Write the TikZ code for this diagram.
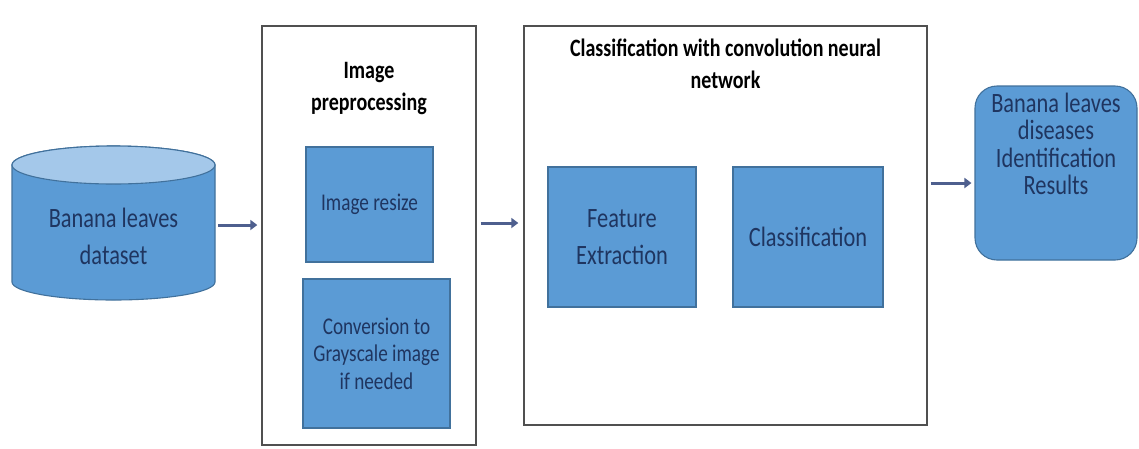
\documentclass[tikz,border=0pt]{standalone}
\usepackage{fontspec}
\setmainfont{Carlito}[FakeStretch=0.8]
\usetikzlibrary{arrows.meta}

\definecolor{boxblue}{HTML}{5B9BD5}
\definecolor{boxedge}{HTML}{41719C}
\definecolor{toplight}{HTML}{A4C8EA}
\definecolor{navytext}{HTML}{1F3560}
\definecolor{framegray}{HTML}{505050}
\definecolor{arrowblue}{HTML}{4E5F8E}

\tikzset{
  bluebox/.style={draw=boxedge, line width=1.1pt, fill=boxblue, inner sep=0pt,
                  text=navytext, align=center},
  frame/.style={draw=framegray, line width=1.4pt, fill=white, inner sep=0pt},
  bigtxt/.style={font=\fontsize{28}{37}\selectfont, text=navytext, align=center},
  smalltxt/.style={font=\fontsize{24}{27.5}\selectfont},
  titletxt/.style={font=\bfseries\fontsize{25}{32.5}\selectfont, text=black,
                   align=center, inner sep=0pt},
  flow/.style={draw=arrowblue, line width=3pt,
               -{Triangle[length=7pt,width=10pt]}},
}

\begin{document}
\begin{tikzpicture}[x=1pt, y=-1pt]
  \fill[white] (0,0) rectangle (1139,448);
  \useasboundingbox (0,0) rectangle (1139,448);

  % dataset cylinder
  \node[inner sep=0pt, minimum width=203pt, minimum height=154pt] (data) at (113.5,223) {};
  \path[fill=boxblue, draw=boxedge, line width=1.1pt]
    (12,165) -- (12,282) arc[start angle=180, end angle=0, x radius=101.5, y radius=18]
    -- (215,165) arc[start angle=0, end angle=-180, x radius=101.5, y radius=19] -- cycle;
  \draw[fill=toplight, draw=boxedge, line width=1.1pt]
    (113.5,165) ellipse [x radius=101.5, y radius=19];
  \node[bigtxt] (datatxt) at ([yshift=-13pt]data.center) {Banana leaves\\dataset};

  % image preprocessing stage
  \node[frame, minimum width=214pt, minimum height=419pt] (pre) at (369,235.5) {};
  \node[titletxt] (pretitle) at ([yshift=-63pt]pre.north) {Image\\preprocessing};
  \node[bluebox, smalltxt, minimum width=127pt, minimum height=115pt] (resize) at (369.5,204.5) {Image resize};
  \node[bluebox, smalltxt, minimum width=147pt, minimum height=149pt] (gray) at (376.5,353.5) {Conversion to\\Grayscale image\\if needed};

  % CNN classification stage
  \node[frame, minimum width=403pt, minimum height=399pt] (cnn) at (725.5,225.5) {};
  \node[titletxt] (cnntitle) at ([yshift=-38.5pt]cnn.north) {Classification with convolution neural\\network};
  \node[bluebox, bigtxt, minimum width=148pt, minimum height=140pt] (feat) at (622,237) {Feature\\Extraction};
  \node[bluebox, bigtxt, minimum width=150pt, minimum height=140pt] (cls) at (808,237) {Classification};

  % results
  \node[bluebox, rounded corners=22pt, minimum width=162pt, minimum height=174pt] (res) at (1056,173) {};
  \node[bigtxt, font=\fontsize{28}{27.5}\selectfont] (restxt) at ([yshift=29pt]res.center)
    {Banana leaves\\diseases\\Identification\\Results};

  % flow arrows
  \draw[flow, shorten <=3pt, shorten >=4pt] ([yshift=-2pt]data.east) -- ([yshift=-2pt]data.east -| pre.west);
  \draw[flow, shorten <=4pt, shorten >=5pt] ([yshift=2.5pt]pre.east |- cnn.west) -- ([yshift=2.5pt]cnn.west);
  \draw[flow, shorten <=3pt, shorten >=3pt] ([yshift=-10pt]res.west -| cnn.east) -- ([yshift=-10pt]res.west);
\end{tikzpicture}
\end{document}
